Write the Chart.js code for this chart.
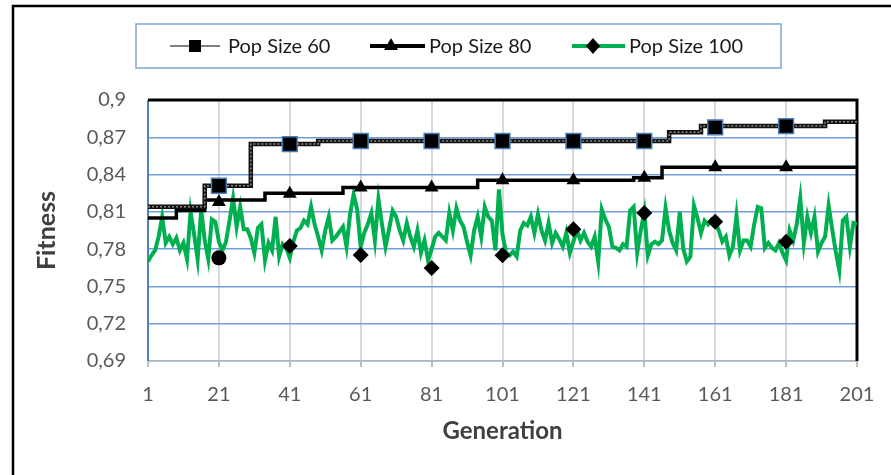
<!DOCTYPE html>
<html>
<head>
<meta charset="utf-8">
<script src="https://cdn.jsdelivr.net/npm/chart.js@4.4.1/dist/chart.umd.min.js"></script>
<style>
  html, body { margin: 0; padding: 0; background: #fff; }
  #wrap { width: 891px; height: 475px; position: relative; }
</style>
</head>
<body>
<div id="wrap"><canvas id="chart" width="891" height="475"></canvas></div>
<script>
// Axis ticks
const genTicks = [1, 21, 41, 61, 81, 101, 121, 141, 161, 181, 201];
const fitnessTicks = [0.69, 0.72, 0.75, 0.78, 0.81, 0.84, 0.87, 0.9];

// Pop Size 100 fitness, generations 1..201
const pop100 = [
  0.770, 0.775, 0.779, 0.790, 0.806, 0.785, 0.790, 0.784, 0.789, 0.779,
  0.785, 0.772, 0.810, 0.792, 0.772, 0.812, 0.787, 0.772, 0.804, 0.802,
  0.786, 0.779, 0.786, 0.803, 0.821, 0.798, 0.814, 0.796, 0.796, 0.789,
  0.777, 0.797, 0.800, 0.771, 0.785, 0.779, 0.806, 0.774, 0.784, 0.781,
  0.773, 0.786, 0.795, 0.797, 0.803, 0.800, 0.814, 0.800, 0.790, 0.779,
  0.795, 0.806, 0.787, 0.790, 0.794, 0.798, 0.782, 0.808, 0.824, 0.812,
  0.782, 0.793, 0.800, 0.809, 0.787, 0.820, 0.800, 0.782, 0.796, 0.811,
  0.806, 0.795, 0.787, 0.801, 0.790, 0.782, 0.795, 0.777, 0.787, 0.771,
  0.780, 0.790, 0.793, 0.790, 0.787, 0.809, 0.795, 0.813, 0.803, 0.798,
  0.786, 0.775, 0.795, 0.806, 0.790, 0.814, 0.806, 0.803, 0.779, 0.828,
  0.792, 0.777, 0.775, 0.778, 0.774, 0.795, 0.801, 0.799, 0.806, 0.793,
  0.808, 0.795, 0.787, 0.801, 0.785, 0.793, 0.788, 0.782, 0.793, 0.777,
  0.786, 0.795, 0.787, 0.793, 0.786, 0.782, 0.790, 0.770, 0.812, 0.804,
  0.798, 0.782, 0.781, 0.779, 0.784, 0.782, 0.811, 0.814, 0.777, 0.795,
  0.810, 0.775, 0.784, 0.786, 0.784, 0.787, 0.813, 0.795, 0.785, 0.779,
  0.810, 0.780, 0.770, 0.774, 0.815, 0.805, 0.793, 0.803, 0.800, 0.804,
  0.802, 0.795, 0.786, 0.790, 0.775, 0.782, 0.807, 0.779, 0.787, 0.787,
  0.782, 0.800, 0.814, 0.813, 0.781, 0.785, 0.781, 0.779, 0.785, 0.777,
  0.771, 0.795, 0.787, 0.800, 0.821, 0.785, 0.806, 0.793, 0.806, 0.778,
  0.785, 0.790, 0.815, 0.796, 0.778, 0.763, 0.803, 0.806, 0.782, 0.801,
  0.800
];

// Step lines: generation where the best fitness changes, and the new value
const pop60StepGens = [1, 17, 30, 49, 148, 157, 192, 201];
const pop60StepVals = [0.8141, 0.831, 0.8645, 0.867, 0.874, 0.879, 0.8825, 0.8825];
const pop80StepGens = [1, 9, 17, 34, 56, 94, 138, 146, 201];
const pop80StepVals = [0.805, 0.811, 0.8195, 0.825, 0.8295, 0.8355, 0.8375, 0.8458, 0.8458];

// Marker points every 20 generations
const markerGens = [21, 41, 61, 81, 101, 121, 141, 161, 181];
const pop60Marks = [0.831, 0.8645, 0.867, 0.867, 0.867, 0.867, 0.867, 0.878, 0.879];
const pop80Marks = [0.818, 0.8245, 0.8295, 0.8295, 0.8355, 0.8355, 0.8375, 0.8458, 0.8458];
const pop100Marks = [0.773, 0.7825, 0.7753, 0.7648, 0.775, 0.796, 0.809, 0.802, 0.786];

const seriesNames = ["Pop Size 60", "Pop Size 80", "Pop Size 100"];

const GREEN = "#00b050";
const FONT = "Lato";

function pts(xs, ys) {
    return xs.map((x, i) => ({ x: x, y: ys[i] }));
}

// Draws the plot frame and the outer border
const framePlugin = {
    id: "frame",
    beforeDraw(chart) {
        const c = chart.ctx;
        c.save();
        c.fillStyle = "#fff";
        c.fillRect(0, 0, chart.width, chart.height);
        c.strokeStyle = "#000";
        c.lineWidth = 2.5;
        c.beginPath();
        c.moveTo(13, chart.height);
        c.lineTo(13, 6);
        c.lineTo(chart.width, 6);
        c.stroke();
        c.restore();
    },
    beforeDatasetsDraw(chart) {
        const a = chart.chartArea;
        const c = chart.ctx;
        c.save();
        // bottom axis line
        c.strokeStyle = "#bfbfbf";
        c.lineWidth = 1.5;
        c.beginPath();
        c.moveTo(a.left, a.bottom);
        c.lineTo(a.right, a.bottom);
        c.stroke();
        // left axis line
        c.strokeStyle = "#4f81bd";
        c.lineWidth = 2;
        c.beginPath();
        c.moveTo(a.left, a.top);
        c.lineTo(a.left, a.bottom);
        c.stroke();
        // top + right border
        c.strokeStyle = "#000";
        c.lineWidth = 3;
        c.beginPath();
        c.moveTo(a.left, a.top);
        c.lineTo(a.right, a.top);
        c.lineTo(a.right, a.bottom);
        c.stroke();
        c.restore();
    }
};

// Legend box with line + marker symbols
const legendPlugin = {
    id: "boxLegend",
    afterDraw(chart) {
        const c = chart.ctx;
        c.save();
        c.strokeStyle = "#7ea6d8";
        c.lineWidth = 1.5;
        c.strokeRect(136, 24, 645, 44);

        const y = 46;
        // Pop Size 60
        c.strokeStyle = "#808080";
        c.lineWidth = 2;
        c.beginPath(); c.moveTo(170, y); c.lineTo(220, y); c.stroke();
        c.fillStyle = "#000";
        c.fillRect(189, y - 6, 12, 12);
        // Pop Size 80
        c.strokeStyle = "#000";
        c.lineWidth = 4;
        c.beginPath(); c.moveTo(370, y); c.lineTo(425, y); c.stroke();
        c.beginPath();
        c.moveTo(391, y - 8); c.lineTo(398, y + 4); c.lineTo(384, y + 4); c.closePath();
        c.fill();
        // Pop Size 100
        c.strokeStyle = GREEN;
        c.beginPath(); c.moveTo(572, y); c.lineTo(625, y); c.stroke();
        c.beginPath();
        c.moveTo(593, y - 8); c.lineTo(600, y); c.lineTo(593, y + 8); c.lineTo(586, y); c.closePath();
        c.fill();

        c.fillStyle = "#1a1a1a";
        c.font = "20px " + FONT;
        c.textBaseline = "middle";
        c.textAlign = "left";
        c.fillText(seriesNames[0], 228, y + 1);
        c.fillText(seriesNames[1], 429, y + 1);
        c.fillText(seriesNames[2], 629, y + 1);
        c.restore();
    }
};

const ctx = document.getElementById("chart").getContext("2d");

new Chart(ctx, {
    type: "line",
    data: {
        datasets: [
            {
                label: seriesNames[0] + " markers",
                data: pts(markerGens, pop60Marks),
                showLine: false,
                pointStyle: "rect",
                pointRadius: 10.5,
                backgroundColor: "#000",
                borderColor: "#4a7ebb",
                pointBorderWidth: 1.5
            },
            {
                label: seriesNames[1] + " markers",
                data: pts(markerGens, pop80Marks),
                showLine: false,
                pointStyle: "triangle",
                pointRadius: 8,
                backgroundColor: "#000",
                borderColor: "#000",
                pointBorderWidth: 0
            },
            {
                label: seriesNames[2] + " markers",
                data: pts(markerGens, pop100Marks),
                showLine: false,
                pointStyle: markerGens.map((g, i) => i === 0 ? "circle" : "rectRot"),
                pointRadius: markerGens.map((g, i) => i === 0 ? 7.5 : 8),
                backgroundColor: "#000",
                borderColor: "#000",
                pointBorderWidth: 0
            },
            {
                label: seriesNames[0] + " inner",
                data: pts(pop60StepGens, pop60StepVals),
                stepped: true,
                borderColor: "#8c8c8c",
                borderWidth: 1.5,
                borderDash: [2, 2],
                pointRadius: 0
            },
            {
                label: seriesNames[0],
                data: pts(pop60StepGens, pop60StepVals),
                stepped: true,
                borderColor: "#111",
                borderWidth: 4.5,
                pointRadius: 0
            },
            {
                label: seriesNames[1],
                data: pts(pop80StepGens, pop80StepVals),
                stepped: true,
                borderColor: "#000",
                borderWidth: 3.5,
                pointRadius: 0
            },
            {
                label: seriesNames[2],
                data: pop100.map((v, i) => ({ x: i + 1, y: v })),
                borderColor: GREEN,
                borderWidth: 4,
                pointRadius: 0,
                tension: 0
            }
        ]
    },
    options: {
        responsive: false,
        animation: false,
        events: [],
        layout: { padding: { left: 14, right: 34, top: 100, bottom: 10 } },
        plugins: {
            legend: { display: false },
            tooltip: { enabled: false }
        },
        scales: {
            x: {
                type: "linear",
                min: 1,
                max: 201,
                afterBuildTicks: (s) => { s.ticks = genTicks.map(v => ({ value: v })); },
                afterFit: (s) => { s.height = 104; },
                border: { display: false },
                grid: {
                    color: "#d9d9d9",
                    lineWidth: 2,
                    tickLength: 6,
                    tickColor: "#bfbfbf"
                },
                ticks: {
                    autoSkip: false,
                    maxRotation: 0,
                    padding: 16,
                    color: "#595959",
                    font: { family: FONT, size: 20 }
                },
                title: {
                    display: true,
                    text: "Generation",
                    color: "#404040",
                    font: { family: FONT, size: 24, weight: "bold" },
                    padding: { top: 0, bottom: 19 }
                }
            },
            y: {
                min: 0.69,
                max: 0.9,
                afterBuildTicks: (s) => { s.ticks = fitnessTicks.map(v => ({ value: v })); },
                afterFit: (s) => { s.width = 134; },
                border: { display: false },
                grid: {
                    color: "#6f9fd8",
                    lineWidth: 1.5,
                    drawTicks: false
                },
                ticks: {
                    padding: 22,
                    color: "#595959",
                    font: { family: FONT, size: 20 },
                    callback: (v) => String(v).replace(".", ",")
                },
                title: {
                    display: true,
                    text: "Fitness",
                    color: "#404040",
                    font: { family: FONT, size: 25, weight: "bold" },
                    padding: { top: 18, bottom: 0 }
                }
            }
        }
    },
    plugins: [framePlugin, legendPlugin]
});
</script>
</body>
</html>
